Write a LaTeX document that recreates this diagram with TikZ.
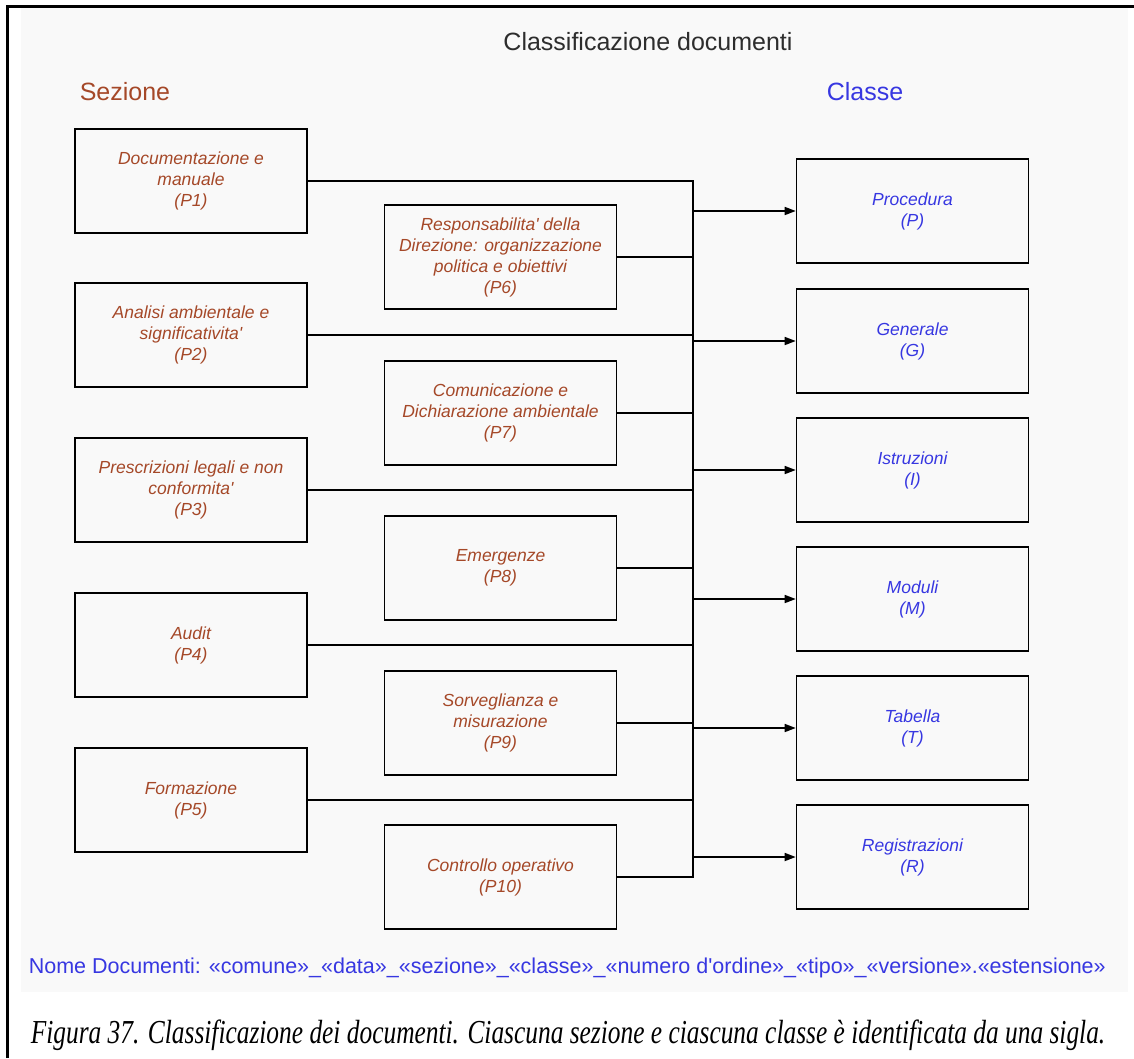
\documentclass[tikz,border=0pt]{standalone}
\usepackage{fontspec}
\newfontfamily\diagfont{Liberation Sans}
\newfontfamily\capfont{Liberation Serif}
\usetikzlibrary{arrows.meta}
\definecolor{sezcol}{RGB}{165,72,40}
\definecolor{clacol}{RGB}{55,55,225}
\definecolor{titcol}{RGB}{45,45,45}
\definecolor{bgcol}{RGB}{249,249,249}

\begin{document}
\begin{tikzpicture}[x=1pt, y=-1pt, line width=1.6pt, line cap=rect, >={Triangle[length=11pt, width=8pt]},
    box/.style={draw, minimum width=232pt, minimum height=104pt, inner sep=0pt, align=center,
      font=\diagfont\itshape\fontsize{17.5}{21}\selectfont},
    sez/.style={box, text=sezcol},
    cla/.style={box, text=clacol}]
    \useasboundingbox (0,0) rectangle (1134,1058);
    \fill[bgcol] (21,8) rectangle (1128,992);
    \draw[line width=3pt, line cap=butt] (7,1058) -- (7,6) -- (1134,6);
    % titles
    \node[text=titcol, font=\diagfont\fontsize{25}{30}\selectfont] (titolo) at (648,42) {Classificazione documenti};
    \node[text=sezcol, font=\diagfont\fontsize{25}{30}\selectfont, anchor=west, inner sep=0pt] (sezione) at (79,92) {Sezione};
    \node[text=clacol, font=\diagfont\fontsize{25}{30}\selectfont, anchor=west, inner sep=0pt] (classe) at (826,92) {Classe};
    % sezioni
    \node[sez] (p1) at (191,181) {Documentazione e\\manuale\\(P1)};
    \node[sez] (p2) at (191,335) {Analisi ambientale e\\significativita'\\(P2)};
    \node[sez] (p3) at (191,490) {Prescrizioni legali e non\\conformita'\\(P3)};
    \node[sez] (p4) at (191,645) {Audit\\(P4)};
    \node[sez] (p5) at (191,800) {Formazione\\(P5)};
    \node[sez] (p6) at (500.5,257) {Responsabilita' della\\Direzione: organizzazione\\politica e obiettivi\\(P6)};
    \node[sez] (p7) at (500.5,413) {Comunicazione e\\Dichiarazione ambientale\\(P7)};
    \node[sez] (p8) at (500.5,568) {Emergenze\\(P8)};
    \node[sez] (p9) at (500.5,723) {Sorveglianza e\\misurazione\\(P9)};
    \node[sez] (p10) at (500.5,877) {Controllo operativo\\(P10)};
    % classi
    \node[cla] (cp) at (912.5,211) {Procedura\\(P)};
    \node[cla] (cg) at (912.5,341) {Generale\\(G)};
    \node[cla] (ci) at (912.5,470) {Istruzioni\\(I)};
    \node[cla] (cm) at (912.5,599) {Moduli\\(M)};
    \node[cla] (ct) at (912.5,728) {Tabella\\(T)};
    \node[cla] (cr) at (912.5,857) {Registrazioni\\(R)};
    % collegamenti
    \coordinate (bus) at (693,0);
    \draw (p1.east -| bus) -- (p10.east -| bus);
    \foreach \s in {p1,p2,p3,p4,p5,p6,p7,p8,p9,p10}
      \draw (\s.east) -- (\s.east -| bus);
    \foreach \c in {cp,cg,ci,cm,ct,cr}
      \draw[->] (\c.west -| bus) -- (\c.west);
    % nome e didascalia
    \node[text=clacol, font=\diagfont\fontsize{21.5}{26}\selectfont, anchor=west, inner sep=0pt] (nome) at (28,968)
      {Nome Documenti: «comune»\_«data»\_«sezione»\_«classe»\_«numero d'ordine»\_«tipo»\_«versione».«estensione»};
    \node[font=\capfont\itshape\fontsize{25.4}{30}\selectfont, anchor=west, inner sep=0pt] (didascalia) at (30,1035)
      {\scalebox{1}[1.32]{Figura 37. Classificazione dei documenti. Ciascuna sezione e ciascuna classe è identificata da una sigla.}};
\end{tikzpicture}
\end{document}
